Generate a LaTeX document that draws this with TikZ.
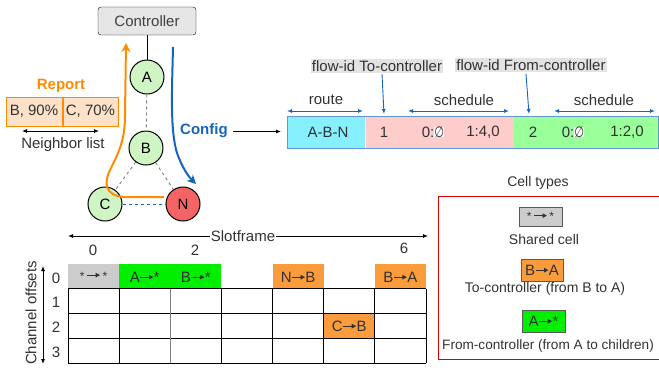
\documentclass[tikz,border=0pt]{standalone}
\usepackage{fontspec}
\setmainfont{Liberation Sans}
\newfontfamily\djv{DejaVu Sans}
\usetikzlibrary{arrows.meta,calc}
\definecolor{ngreen}{RGB}{208,245,196}
\definecolor{nred}{RGB}{245,100,100}
\definecolor{orng}{RGB}{255,140,0}
\definecolor{cfgblue}{RGB}{21,101,192}
\definecolor{cellorange}{RGB}{250,155,60}
\definecolor{cellgreen}{RGB}{0,238,0}
\definecolor{cellgray}{RGB}{204,204,204}
\definecolor{recCyan}{RGB}{135,240,255}
\definecolor{recPink}{RGB}{255,204,204}
\definecolor{recGreen}{RGB}{153,255,153}
\definecolor{nbfill}{RGB}{253,225,200}
\definecolor{ctrlfill}{RGB}{230,230,230}
\definecolor{txtgray}{RGB}{50,50,50}
\definecolor{recborder}{RGB}{100,150,205}
\newcommand\cellarr{\tikz[baseline=0pt]\draw[line width=0.9pt,-{Triangle[length=4.5pt,width=4.5pt]}] (0pt,5pt)--(13pt,5pt);}
\newcommand\myempty{{\setlength\fboxsep{0pt}\colorbox{white}{\djv\scalebox{0.75}[1]{∅}}}}
\tikzset{
  base/.style={font=\fontsize{15}{18}\selectfont, inner sep=0pt, text=txtgray},
  small/.style={font=\fontsize{14}{17}\selectfont, inner sep=0pt, text=txtgray},
  mote/.style={draw, circle, minimum size=34pt, line width=1pt, fill=ngreen, font=\fontsize{15}{18}\selectfont, text=black},
  linkd/.style={dashed, gray, line width=0.9pt},
  rec/.style={minimum height=31pt, inner sep=0pt},
  barrow/.style={cfgblue, line width=0.9pt, {Latex[length=5pt,width=4pt]}-{Latex[length=5pt,width=4pt]}},
  karrow/.style={black, line width=0.8pt, {Latex[length=5pt,width=4pt]}-{Latex[length=5pt,width=4pt]}},
  cellbox/.style={draw=gray!70!black, line width=0.8pt, inner sep=0pt},
  celltxt/.style={font=\fontsize{15}{18}\selectfont, inner sep=0pt, text=txtgray}
}
\begin{document}
\begin{tikzpicture}[x=1pt,y=-1pt]
\useasboundingbox (0,0) rectangle (659,373);

% ---- tree ----
\node[draw, rounded corners=3pt, fill=ctrlfill, minimum width=98pt, minimum height=28pt, base, text=darkgray] (ctrl) at (147,21) {Controller};
\node[mote] (A) at (147,77) {A};
\node[mote] (B) at (146,148) {B};
\node[mote] (C) at (105,204) {C};
\node[mote, fill=nred] (N) at (183,204) {N};
\draw[line width=0.9pt] (ctrl) -- (A);
\draw[linkd] (A) -- (B);
\draw[linkd] (B) -- (C);
\draw[linkd] (B) -- (N);
\draw[dashed, cfgblue, line width=0.9pt] (C) -- (N);

\coordinate (ostart) at (164,197);
\coordinate (oend) at (126,43);
\draw[orng, line width=2pt, -{Stealth[length=9pt,width=9pt]}] (ostart) -- (125,197) .. controls (104,196) and (104,182) .. (110,170) .. controls (119,152) and (125,140) .. (125,115) -- (oend);
\coordinate (bstart) at (173,47);
\coordinate (bend) at (196,184);
\draw[cfgblue, line width=2pt, -{Stealth[length=9pt,width=9pt]}] (bstart) .. controls (172,90) and (170,130) .. (177,153) .. controls (182,167) and (188,176) .. (bend);

% ---- report ----
\node[base, font=\fontsize{15}{18}\selectfont\bfseries, text=orng] (rep) at (61,86) {Report};
\node[draw=orng, fill=nbfill, line width=1pt, minimum width=56pt, minimum height=29pt, base] (nb1) at (34,111.5) {B, 90\%};
\node[draw=orng, fill=nbfill, line width=1pt, minimum width=55pt, minimum height=29pt, base, anchor=west] (nb2) at (nb1.east) {C, 70\%};
\coordinate (nl1) at (22,131);
\coordinate (nl2) at (99,131);
\draw[karrow] (nl1) -- (nl2);
\node[base] (nlist) at (63,145) {Neighbor list};

% ---- config record ----
\node[base, font=\fontsize{15}{18}\selectfont\bfseries, text=cfgblue, anchor=west] (cfg) at (180,131) {Config};
\node[rec, fill=recCyan, minimum width=78pt, anchor=west] (r1) at (287,132.5) {};
\node[rec, fill=recPink, minimum width=148pt, anchor=west] (r2) at (r1.east) {};
\node[rec, fill=recGreen, minimum width=144pt, anchor=west] (r3) at (r2.east) {};
\draw[recborder, line width=0.9pt] (r1.north west) rectangle (r3.south east);
\coordinate (carr) at (233,131.5);
\coordinate (carr2) at (281,131.5);
\draw[black, line width=0.8pt, -{Latex[length=5pt,width=4pt]}] (carr) -- (carr2);
\node[base] (t1) at (328,132) {A-B-N};
\node[base] (t2) at (384,132) {1};
\node[base] (t3) at (433,132) {0:\myempty};
\node[base] (t4) at (483,132) {1:4,0};
\node[base] (t5) at (533,132) {2};
\node[base] (t6) at (573,132) {0:\myempty};
\node[base] (t7) at (627,132) {1:2,0};

\node[base] (lroute) at (326,100) {route};
\node[base] (lsch1) at (464,100) {schedule};
\node[base] (lsch2) at (604,100) {schedule};
\coordinate (ra) at (287,111); \coordinate (rb) at (363,111);
\coordinate (sa) at (408,111); \coordinate (sb) at (509,111);
\coordinate (ua) at (554,111); \coordinate (ub) at (655,111);
\draw[barrow] (ra) -- (rb);
\draw[barrow] (sa) -- (sb);
\draw[barrow] (ua) -- (ub);

\node[base, fill=gray!22, inner sep=1pt] (ftc) at (377,66) {flow-id To-controller};
\node[base, fill=gray!22, inner sep=1pt] (ffc) at (531,65) {flow-id From-controller};
\coordinate (fa) at (382,74); \coordinate (fb) at (384,114);
\coordinate (ga) at (526,74); \coordinate (gb) at (529,114);
\draw[cfgblue, line width=0.9pt, -{Latex[length=5pt,width=4pt]}] (fa) -- (fb);
\draw[cfgblue, line width=0.9pt, -{Latex[length=5pt,width=4pt]}] (ga) -- (gb);

% ---- slotframe table ----
\def\cw{51.14}
\def\rh{24.75}
\fill[cellgray] (68,264) rectangle ++(\cw,\rh);
\fill[cellgreen] (68+\cw,264) rectangle ++(2*\cw,\rh);
\fill[cellorange] (68+4*\cw,264) rectangle ++(\cw,\rh);
\fill[cellorange] (68+6*\cw,264) rectangle ++(\cw,\rh);
\fill[cellorange] (68+5*\cw,264+2*\rh) rectangle ++(\cw,\rh);
\foreach \i in {1,2,3,4} \draw[line width=0.9pt] (68,264+\i*\rh) -- (426,264+\i*\rh);
\foreach \j in {0,1,3,4,5,6,7} \draw[line width=0.9pt] (68+\j*\cw,264+\rh) -- (68+\j*\cw,363);
\draw[gray, line width=0.9pt] (68+2*\cw,264+\rh) -- (68+2*\cw,363);
\node[celltxt, font=\fontsize{12}{14}\selectfont] (c00) at (68+0.5*\cw,276) {*\,\cellarr\,*};
\node[celltxt] (c10) at (68+1.5*\cw,277) {A\cellarr*};
\node[celltxt] (c20) at (68+2.5*\cw,277) {B\cellarr*};
\node[celltxt] (c40) at (68+4.5*\cw,277) {N\cellarr B};
\node[celltxt] (c60) at (68+6.5*\cw,277) {B\cellarr A};
\node[celltxt] (c52) at (68+5.5*\cw,326) {C\cellarr B};

\coordinate (sfa) at (68,236); \coordinate (sfb) at (428,236);
\draw[karrow] (sfa) -- (sfb);
\node[base, fill=white, inner xsep=1pt] (sf) at (243,236) {Slotframe};
\node[base] (x0) at (93,250) {0};
\node[base] (x2) at (195,250) {2};
\node[base] (x6) at (404,248) {6};

\node[base, rotate=90] (chof) at (31,313) {Channel offsets};
\coordinate (ca) at (43,266); \coordinate (cb) at (43,364);
\draw[karrow] (ca) -- (cb);
\node[base] (y0) at (56,278) {0};
\node[base] (y1) at (56,302) {1};
\node[base] (y2) at (56,327) {2};
\node[base] (y3) at (56,352) {3};

% ---- legend ----
\node[small] (ctitle) at (538,183) {Cell types};
\draw[red!85!black, line width=1pt] (438,196) rectangle (668,359);
\node[cellbox, fill=cellgray, minimum width=43pt, minimum height=19pt, font=\fontsize{12}{14}\selectfont, text=txtgray] (lg1) at (540.5,216.5) {*\,\cellarr\,*};
\node[small] (lt1) at (544,239) {Shared cell};
\node[cellbox, fill=cellorange, minimum width=42pt, minimum height=22pt, font=\fontsize{15}{18}\selectfont, text=txtgray] (lg2) at (542,270) {B\cellarr A};
\node[small] (lt2) at (545,289) {To-controller (from B to A)};
\node[cellbox, fill=cellgreen, minimum width=43pt, minimum height=22pt, font=\fontsize{15}{18}\selectfont, text=txtgray] (lg3) at (543.5,321) {A\cellarr*};
\node[small, font=\fontsize{13.6}{16}\selectfont, anchor=west] (lt3) at (442,346) {From-controller (from A to children)};
\end{tikzpicture}
\end{document}
